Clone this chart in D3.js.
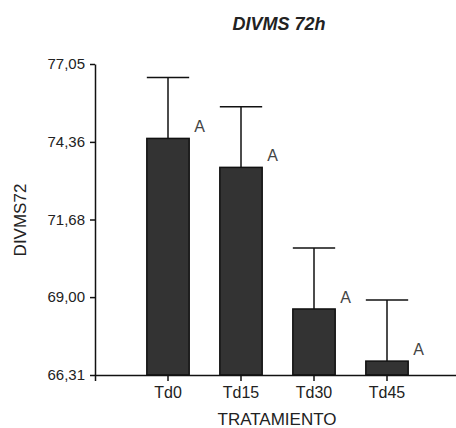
<!DOCTYPE html>
<html>
<head>
<meta charset="utf-8">
<script src="https://cdn.jsdelivr.net/npm/d3@7"></script>
<style>
  body { margin: 0; background: #fff; }
  text { font-family: "Liberation Sans", Arial, sans-serif; fill: #222; }
</style>
</head>
<body>
<div id="chart-area"></div>
<script>
// data
var tratamientos = ["Td0", "Td15", "Td30", "Td45"];
var medias = [74.48, 73.48, 68.59, 66.79];
var errores = [2.10, 2.09, 2.11, 2.11];
var letras = ["A", "A", "A", "A"];
var yTicks = [66.31, 69.00, 71.68, 74.36, 77.05];
var yTickLabels = ["66,31", "69,00", "71,68", "74,36", "77,05"];

var w = 456;
var h = 428;

var svg = d3.select("#chart-area").append("svg")
    .attr("width", w)
    .attr("height", h);

var x = d3.scaleBand()
    .domain(tratamientos)
    .range([95, 460])
    .paddingInner(0.42)
    .paddingOuter(0.71);

var y = d3.scaleLinear()
    .domain([66.31, 77.05])
    .range([375, 64]);

var data = tratamientos.map(function(t, i) {
    return { t: t, m: medias[i], e: errores[i], l: letras[i] };
});

// error bars (behind bars)
var err = svg.append("g");
err.selectAll("line.v")
    .data(data).enter()
    .append("line")
        .attr("class", "v")
        .attr("x1", function(d) { return x(d.t) + x.bandwidth() / 2; })
        .attr("x2", function(d) { return x(d.t) + x.bandwidth() / 2; })
        .attr("y1", function(d) { return y(d.m); })
        .attr("y2", function(d) { return y(d.m + d.e); })
        .attr("stroke", "#111")
        .attr("stroke-width", 1.5);
err.selectAll("line.cap")
    .data(data).enter()
    .append("line")
        .attr("class", "cap")
        .attr("x1", function(d) { return x(d.t); })
        .attr("x2", function(d) { return x(d.t) + x.bandwidth(); })
        .attr("y1", function(d) { return y(d.m + d.e); })
        .attr("y2", function(d) { return y(d.m + d.e); })
        .attr("stroke", "#111")
        .attr("stroke-width", 1.5);

// bars
svg.selectAll("rect")
    .data(data).enter()
    .append("rect")
        .attr("x", function(d) { return x(d.t); })
        .attr("y", function(d) { return y(d.m); })
        .attr("width", x.bandwidth())
        .attr("height", function(d) { return y(66.31) - y(d.m); })
        .attr("fill", "#333")
        .attr("stroke", "#111")
        .attr("stroke-width", 1.5);

// letters
svg.selectAll("text.letra")
    .data(data).enter()
    .append("text")
        .attr("class", "letra")
        .attr("x", function(d) { return x(d.t) + x.bandwidth() + 5; })
        .attr("y", function(d) { return y(d.m) - 6; })
        .attr("font-size", "16px")
        .attr("fill", "#444")
        .style("fill", "#444")
        .text(function(d) { return d.l; });

// axes
var bottom = d3.axisBottom(x).tickSizeOuter(0).tickSize(6);
var gx = svg.append("g")
    .attr("transform", "translate(0," + 375 + ")")
    .call(bottom);
gx.selectAll("text")
    .attr("font-size", "16px")
    .attr("font-family", null)
    .attr("y", 12);
gx.selectAll("path, line").attr("stroke", "#111").attr("stroke-width", 1.5);

var left = d3.axisLeft(y)
    .tickValues(yTicks)
    .tickSize(5)
    .tickSizeOuter(0)
    .tickFormat(function(d, i) { return yTickLabels[i]; });
var gy = svg.append("g")
    .attr("transform", "translate(95,0)")
    .call(left);
gy.selectAll("text")
    .attr("font-size", "15px")
    .attr("font-family", null)
    .attr("x", -10);
gy.selectAll("path, line").attr("stroke", "#111").attr("stroke-width", 1.5);

// labels
svg.append("text")
    .attr("x", 279)
    .attr("y", 30)
    .attr("text-anchor", "middle")
    .attr("font-size", "18px")
    .attr("font-weight", "bold")
    .attr("font-style", "italic")
    .text("DIVMS 72h");

svg.append("text")
    .attr("x", 277)
    .attr("y", 425)
    .attr("text-anchor", "middle")
    .attr("font-size", "17px")
    .text("TRATAMIENTO");

svg.append("text")
    .attr("transform", "translate(26,220) rotate(-90)")
    .attr("text-anchor", "middle")
    .attr("font-size", "17px")
    .text("DIVMS72");
</script>
</body>
</html>
